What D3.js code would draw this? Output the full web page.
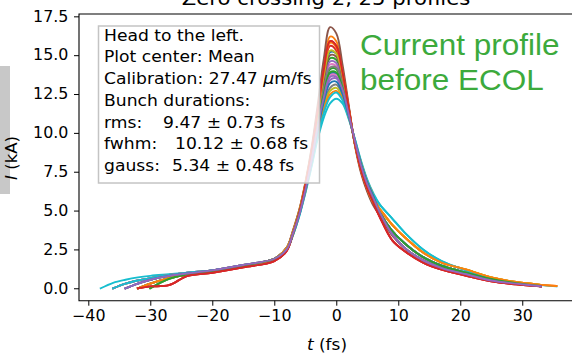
<!DOCTYPE html>
<html><head><meta charset="utf-8">
<script src="https://cdn.jsdelivr.net/npm/d3@7"></script>
<style>body{margin:0;background:#fff}svg{display:block}text{font-family:"DejaVu Sans",sans-serif}</style>
</head><body><svg id="c" width="572" height="355"></svg>
<script>
const _ = null;
const tGrid = [-38,-36,-34,-32,-30,-27,-24,-20,-15,-10,-8,-7,-6,-5,-4,-3,-2,-1,0,1,2,3,4,5,6,7,9,11,14,17,21,25,29,33,35.5];
const xTicks = [-40,-30,-20,-10,0,10,20,30];
const yTicks = [0,2.5,5,7.5,10,12.5,15,17.5];
const colors = ["#1f77b4","#ff7f0e","#2ca02c","#d62728","#9467bd","#8c564b","#e377c2","#7f7f7f","#bcbd22","#17becf"];
const titleText = "Zero crossing 2, 25 profiles";
const infoLines = ["Head to the left.","Plot center: Mean","Calibration: 27.47 ","Bunch durations:"];
const durLabels = ["rms:","fwhm:","gauss:"];
const durValues = ["9.47 \u00b1 0.73 fs","10.12 \u00b1 0.68 fs","5.34 \u00b1 0.48 fs"];
const noteLines = ["Current profile","before ECOL"];

const profiles = [
[_,0,0.3,0.5,0.65,0.85,1.0,1.15,1.45,1.9, 2.5,3.5,4.8,6.4,8.3,10.4,12.5,13.8,13.8,12.9,11.2,9.4,7.9,6.7,5.8, 4.9,3.7,2.9,2.0,1.45,1.0,0.6,0.33,0.15,_],
[_,_,0,0.3,0.55,0.8,0.95,1.15,1.5,1.9, 2.6,3.7,5.0,6.7,8.9,11.5,14.3,16.2,15.9,14.1,11.7,9.3,7.5,6.3,5.4, 5.1,4.1,3.3,2.3,1.65,1.2,0.7,0.4,0.22,0.15],
[_,_,_,0,0.3,0.65,0.9,1.1,1.45,1.9, 2.6,3.6,4.8,6.5,8.5,10.9,13.3,14.8,14.7,13.4,11.4,9.4,7.7,6.5,5.6, 4.9,3.7,2.9,2.0,1.45,1.0,0.6,0.33,0.15,_],
[_,_,_,0,0.12,0.2,0.8,1.0,1.35,1.75, 2.4,3.5,4.8,6.6,8.7,11.3,14.0,15.9,15.6,13.9,11.6,9.3,7.6,6.3,5.4, 4.6,3.1,2.4,1.65,1.2,0.8,0.45,0.25,0.12,_],
[_,0,0.3,0.5,0.65,0.85,1.0,1.15,1.45,1.9, 2.5,3.5,4.7,6.3,8.2,10.3,12.1,13.4,13.5,12.7,11.2,9.5,8.0,6.8,5.9, 4.9,3.5,2.6,1.8,1.3,0.9,0.5,0.3,0.13,_],
[_,_,_,0,0.3,0.65,0.9,1.1,1.45,1.9, 2.6,3.7,5.0,6.8,9.0,11.8,14.8,16.8,16.4,14.4,11.8,9.2,7.4,6.2,5.3, 4.7,3.4,2.6,1.8,1.3,0.9,0.5,0.3,0.13,_],
[_,_,0,0.3,0.55,0.8,0.95,1.15,1.5,1.9, 2.6,3.6,4.8,6.5,8.4,10.7,12.9,14.4,14.3,13.2,11.4,9.4,7.8,6.6,5.7, 4.9,3.7,2.9,2.0,1.45,1.0,0.6,0.33,0.15,_],
[_,_,_,0,0.3,0.65,0.9,1.1,1.45,1.9, 2.5,3.5,4.7,6.3,8.1,10.1,11.8,12.9,13.1,12.4,11.1,9.5,8.0,6.8,5.9, 4.9,3.7,2.9,2.0,1.45,1.0,0.6,0.33,0.15,_],
[_,_,0,0.3,0.55,0.8,0.95,1.15,1.5,1.9, 2.5,3.5,4.7,6.2,8.0,10.0,11.7,12.7,12.9,12.3,11.1,9.5,8.1,6.9,6.0, 5.1,4.1,3.3,2.3,1.65,1.2,0.7,0.4,0.22,_],
[0,0.35,0.55,0.7,0.8,0.9,1.0,1.15,1.45,1.85, 2.5,3.4,4.6,6.1,7.8,9.6,11.0,11.9,12.2,11.9,10.9,9.6,8.2,7.0,6.1, 5.4,4.5,3.6,2.5,1.75,1.15,0.65,0.35,0.2,0.12],
[_,_,0,0.3,0.55,0.8,0.95,1.15,1.5,1.9, 2.6,3.6,4.9,6.6,8.6,11.1,13.6,15.2,15.1,13.6,11.5,9.3,7.7,6.5,5.6, 4.9,3.5,2.6,1.8,1.3,0.9,0.5,0.3,0.13,_],
[_,0,0.3,0.5,0.65,0.85,1.0,1.15,1.45,1.9, 2.5,3.4,4.7,6.2,8.0,9.9,11.5,12.5,12.7,12.2,11.0,9.5,8.1,6.9,6.0, 5.1,4.1,3.3,2.3,1.65,1.2,0.7,0.4,0.22,0.15],
[_,_,_,_,0,0.6,0.9,1.1,1.45,1.9, 2.5,3.5,4.8,6.4,8.3,10.6,12.7,14.1,14.1,13.0,11.3,9.4,7.8,6.6,5.7, 4.9,3.7,2.9,2.0,1.45,1.0,0.6,0.33,0.15,_],
[_,_,_,0,0.12,0.2,0.8,1.0,1.35,1.75, 2.4,3.5,4.8,6.5,8.6,11.1,13.7,15.6,15.3,13.8,11.6,9.3,7.6,6.4,5.5, 4.6,3.1,2.4,1.65,1.2,0.8,0.45,0.25,0.12,_],
[_,0,0.3,0.5,0.65,0.85,1.0,1.15,1.45,1.9, 2.6,3.6,4.8,6.5,8.5,10.8,13.1,14.6,14.5,13.3,11.4,9.4,7.8,6.6,5.7, 4.9,3.7,2.9,2.0,1.45,1.0,0.6,0.33,0.15,_],
[_,_,_,0,0.3,0.65,0.9,1.1,1.45,1.9, 2.6,3.6,4.9,6.6,8.6,11.0,13.4,15.0,14.9,13.5,11.5,9.3,7.7,6.5,5.6, 4.9,3.5,2.6,1.8,1.3,0.9,0.5,0.3,0.13,_],
[_,_,0,0.3,0.55,0.8,0.95,1.15,1.5,1.9, 2.5,3.5,4.7,6.4,8.2,10.4,12.4,13.7,13.7,12.8,11.2,9.5,7.9,6.7,5.8, 4.9,3.7,2.9,2.0,1.45,1.0,0.6,0.33,0.15,_],
[_,_,_,_,0,0.6,0.9,1.1,1.45,1.9, 2.5,3.5,4.8,6.4,8.4,10.6,12.8,14.2,14.2,13.1,11.3,9.4,7.8,6.6,5.7, 4.9,3.5,2.6,1.8,1.3,0.9,0.5,0.3,0.13,_],
[_,_,_,0,0.3,0.65,0.9,1.1,1.45,1.9, 2.6,3.6,4.9,6.6,8.6,11.1,13.7,15.3,15.1,13.7,11.5,9.3,7.6,6.4,5.5, 5.1,4.1,3.3,2.3,1.65,1.2,0.7,0.4,0.22,_],
[_,0,0.3,0.5,0.65,0.85,1.0,1.15,1.45,1.9, 2.5,3.4,4.6,6.2,7.9,9.8,11.3,12.3,12.6,12.1,11.0,9.6,8.1,6.9,6.0, 5.4,4.5,3.6,2.5,1.75,1.15,0.65,0.35,0.2,_],
[_,_,0,0.3,0.55,0.8,0.95,1.15,1.5,1.9, 2.5,3.5,4.7,6.3,8.1,10.2,12.0,13.2,13.3,12.5,11.1,9.5,8.0,6.8,5.9, 4.9,3.7,2.9,2.0,1.45,1.0,0.6,0.33,0.15,_],
[_,_,_,0,0.3,0.65,0.9,1.1,1.45,1.9, 2.6,3.6,4.9,6.7,8.7,11.3,14.0,15.8,15.5,13.9,11.6,9.3,7.6,6.4,5.5, 5.1,4.1,3.3,2.3,1.65,1.2,0.7,0.4,0.22,0.15],
[_,_,_,_,0,0.6,0.9,1.1,1.45,1.9, 2.5,3.5,4.8,6.4,8.3,10.5,12.5,13.9,13.9,12.9,11.3,9.4,7.9,6.7,5.8, 4.9,3.7,2.9,2.0,1.45,1.0,0.6,0.33,0.15,_],
[_,_,_,0,0.12,0.2,0.8,1.0,1.35,1.75, 2.4,3.5,4.8,6.6,8.8,11.4,14.1,15.9,15.6,13.9,11.6,9.3,7.6,6.4,5.5, 4.6,3.1,2.4,1.65,1.2,0.8,0.45,0.25,0.12,_],
[_,_,0,0.3,0.55,0.8,0.95,1.15,1.5,1.9, 2.5,3.5,4.7,6.3,8.2,10.4,12.3,13.6,13.6,12.8,11.2,9.5,7.9,6.7,5.8, 4.9,3.5,2.6,1.8,1.3,0.9,0.5,0.3,0.13,_]
];

const svg = d3.select("#c");
const L = 79, R = 579.3, T = 14, B = 300.7;
const SX = 1.06; // horizontal stretch of the reference's text
const x = d3.scaleLinear().domain([-41.5, 39.2]).range([L, R]);
const y = d3.scaleLinear().domain([-0.8, 17.65]).range([B, T]);

svg.append("rect").attr("x",0).attr("y",66).attr("width",10).attr("height",128).attr("fill","#c8c8c8");

const line = d3.line()
  .defined(d => d[1] != null)
  .x(d => x(d[0])).y(d => y(d[1]))
  .curve(d3.curveCatmullRom.alpha(0.5));

const g = svg.append("g");
profiles.forEach((p, i) => {
  g.append("path")
    .attr("d", line(tGrid.map((t, k) => [t, p[k]])))
    .attr("fill","none").attr("stroke", colors[i % 10])
    .attr("stroke-width",1.9).attr("stroke-linejoin","round").attr("stroke-linecap","square");
});

const xa = svg.append("g").attr("transform",`translate(0,${B})`)
  .call(d3.axisBottom(x).tickValues(xTicks).tickFormat(d3.format("d")).tickSize(5).tickPadding(5));
const ya = svg.append("g").attr("transform",`translate(${L},0)`)
  .call(d3.axisLeft(y).tickValues(yTicks).tickFormat(d3.format(".1f")).tickSize(5).tickPadding(5));
[xa, ya].forEach(a => {
  a.select(".domain").remove();
  a.selectAll(".tick line").attr("stroke","#000").attr("stroke-width",1);
  a.selectAll(".tick text").attr("fill","#000").style("font-size","15px")
    .style("font-family","DejaVu Sans").attr("transform",`scale(${SX},1)`);
});
svg.append("path").attr("d",`M${L},${T}V${B}H${R}V${T}Z`)
  .attr("stroke","#000").attr("stroke-width",1.1).attr("fill","none");

function stext(xx, yy, size, anchor) {
  return svg.append("text").attr("transform",`translate(${xx},${yy}) scale(${SX},1)`)
    .attr("text-anchor", anchor || "start").style("font-size", size + "px");
}

stext(326, 5, 20, "middle").text(titleText);

const xl = stext(327, 350, 16, "middle");
xl.append("tspan").attr("font-style","italic").text("t");
xl.append("tspan").text(" (fs)");
const yl = svg.append("text").attr("transform","translate(17,158) rotate(-90)").attr("text-anchor","middle").style("font-size","16.5px");
yl.append("tspan").attr("font-style","italic").text("I");
yl.append("tspan").text(" (kA)");

svg.append("rect").attr("x",98.5).attr("y",26).attr("width",221).attr("height",157)
  .attr("fill","#fff").attr("fill-opacity",0.8).attr("stroke","#c4c4c4").attr("stroke-width",1.5);
const lx = 104, ly0 = 40.7, dl = 21.7, fs = 16.2;
infoLines.forEach((s, i) => {
  const t = stext(lx, ly0 + i*dl, fs).text(s);
  if (i === 2) {
    t.append("tspan").attr("font-style","italic").text("\u03bc");
    t.append("tspan").text("m/fs");
  }
});
const valX = [163, 175, 172];
durLabels.forEach((s, i) => {
  const yy = ly0 + (4 + i)*dl;
  stext(lx, yy, fs).text(s);
  stext(valX[i], yy, fs).text(durValues[i]);
});

noteLines.forEach((s, i) => {
  svg.append("text").attr("transform",`translate(360,${55 + i*35}) scale(1.05,1)`)
    .style("font-family","'Liberation Sans', Arial, sans-serif").style("font-size","30px")
    .attr("fill","#3caa3c").text(s);
});
</script></body></html>
